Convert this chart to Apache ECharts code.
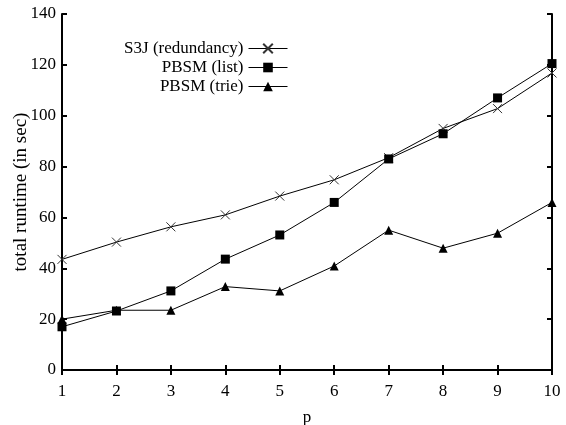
<!DOCTYPE html>
<html>
<head>
<meta charset="utf-8">
<script src="https://cdn.jsdelivr.net/npm/echarts@6/dist/echarts.min.js"></script>
<style>
  html, body { margin: 0; padding: 0; background: #fff; }
  #chart { width: 566px; height: 425px; }
</style>
</head>
<body>
<div id="chart"></div>
<script>
const pValues = [1, 2, 3, 4, 5, 6, 7, 8, 9, 10];
const s3jRedundancy = [43.5, 50.3, 56.3, 61, 68.4, 74.8, 83.5, 95, 102.8, 116.8];
const pbsmList = [17, 23.2, 31.1, 43.6, 53.1, 65.9, 83, 92.9, 107, 120.5];
const pbsmTrie = [20, 23.5, 23.5, 32.8, 31.1, 40.9, 55, 47.9, 53.8, 65.9];

const seriesNames = ['S3J (redundancy)', 'PBSM (list)', 'PBSM (trie)'];

const serif = 'Liberation Serif, Times New Roman, serif';
const crossPath = 'path://M0,0L10,10M10,0L0,10';

function pairs(values) {
    return pValues.map((p, i) => [p, values[i]]);
}

function makeSeries(name, values, symbol, size, stroke) {
    return {
        name: name,
        type: 'line',
        data: pairs(values),
        symbol: symbol,
        symbolSize: size,
        showAllSymbol: true,
        lineStyle: { color: '#000', width: 1 },
        itemStyle: stroke
            ? { color: 'rgba(0,0,0,0)', borderColor: '#333', borderWidth: 1 }
            : { color: '#000', borderWidth: 0 },
        emphasis: { disabled: true },
        animation: false
    };
}

const chart = echarts.init(document.getElementById('chart'));

const axisLine = { show: true, lineStyle: { color: '#000', width: 2 } };
const tick = { show: true, inside: true, length: 5, lineStyle: { color: '#000', width: 2 } };
const labelFont = { fontFamily: serif, fontSize: 17, color: '#000' };

chart.setOption({
    backgroundColor: '#fff',
    animation: false,
    grid: { left: 62, right: 14, top: 14, bottom: 55, containLabel: false, outerBoundsMode: 'none' },
    legend: {
        orient: 'vertical',
        right: 273,
        top: 35,
        align: 'right',
        itemWidth: 39,
        itemHeight: 12,
        itemGap: 2,
        lineStyle: { width: 1 },
        textStyle: labelFont,
        data: seriesNames
    },
    xAxis: [
        {
            type: 'value', min: 1, max: 10, interval: 1, position: 'bottom',
            name: 'p', nameLocation: 'middle', nameGap: 39,
            nameTextStyle: labelFont,
            axisLine: axisLine,
            axisTick: tick,
            axisLabel: Object.assign({ margin: 13 }, labelFont),
            splitLine: { show: false }
        },
        {
            type: 'value', min: 1, max: 10, interval: 1, position: 'top',
            axisLine: axisLine,
            axisTick: tick,
            axisLabel: { show: false },
            splitLine: { show: false }
        }
    ],
    yAxis: [
        {
            type: 'value', min: 0, max: 140, interval: 20, position: 'left',
            name: 'total runtime (in sec)', nameLocation: 'middle', nameGap: 31,
            nameMoveOverlap: false,
            nameTextStyle: { fontFamily: serif, fontSize: 19, color: '#000' },
            axisLine: axisLine,
            axisTick: tick,
            axisLabel: Object.assign({ margin: 6 }, labelFont),
            splitLine: { show: false }
        },
        {
            type: 'value', min: 0, max: 140, interval: 20, position: 'right',
            axisLine: axisLine,
            axisTick: tick,
            axisLabel: { show: false },
            splitLine: { show: false }
        }
    ],
    series: [
        makeSeries(seriesNames[0], s3jRedundancy, crossPath, 9, true),
        makeSeries(seriesNames[1], pbsmList, 'rect', 9, false),
        makeSeries(seriesNames[2], pbsmTrie, 'triangle', 9, false)
    ]
});
</script>
</body>
</html>
